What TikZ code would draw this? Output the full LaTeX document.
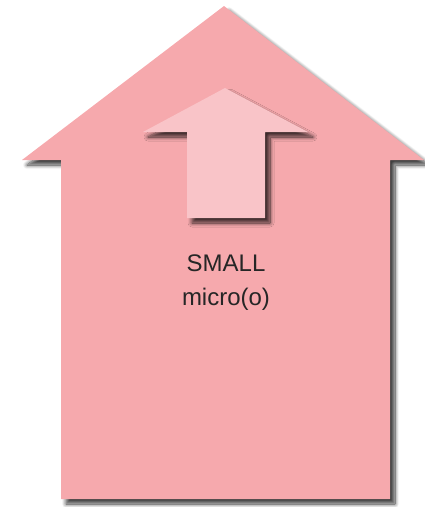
\documentclass[tikz,border=0pt]{standalone}
\usepackage{fontspec}
\setmainfont{Liberation Sans}
\usetikzlibrary{shadows.blur}
\definecolor{bigpink}{RGB}{246,169,173}
\definecolor{smallpink}{RGB}{249,196,200}

\begin{document}
\begin{tikzpicture}[x=1pt,y=-1pt,
    arrowshape/.style={blur shadow={shadow xshift=5pt,shadow yshift=-5pt,shadow blur radius=4pt,shadow blur steps=10,shadow opacity=75,shadow blur extra rounding=0pt}},
    label/.style={font=\fontsize{24}{34}\selectfont,align=center,text=black!85}]
\useasboundingbox (0,0) rectangle (424,507);
\fill[bigpink,arrowshape] (224,6) -- (424,160) -- (390,160) -- (390,499) -- (61,499) -- (61,160) -- (22,160) -- cycle;
\fill[smallpink,arrowshape] (225,88) -- (308,132) -- (265,132) -- (265,218) -- (187,218) -- (187,132) -- (143,132) -- cycle;
\node[label] (name) at (226,283) {SMALL\\micro(o)};
\end{tikzpicture}
\end{document}
